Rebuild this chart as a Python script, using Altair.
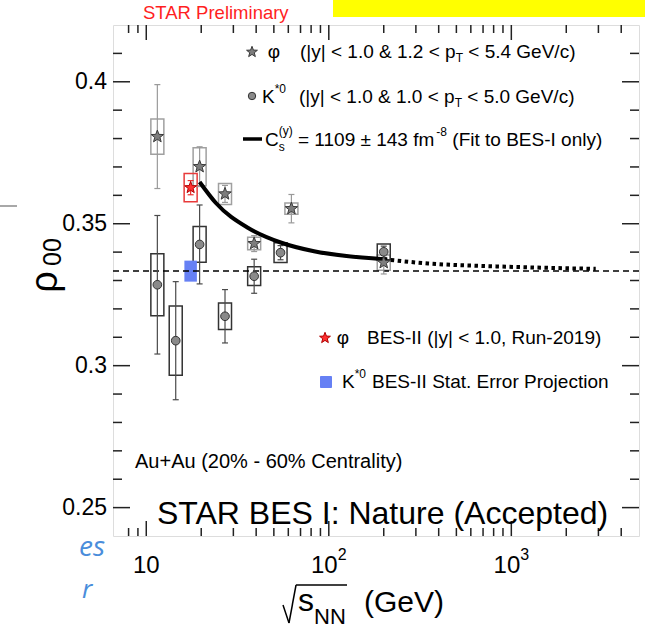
import altair as alt
import pandas as pd

# ------------------------------------------------------------------ data
phi_energy = [11.5, 19.6, 27.0, 39.0, 62.4, 200.0]
phi_rho = [0.3807, 0.3701, 0.3605, 0.3430, 0.3553, 0.3363]
phi_stat = [0.0183, 0.0070, 0.0030, 0.0028, 0.0050, 0.0040]
phi_sys = [0.0062, 0.0067, 0.0037, 0.0022, 0.0020, 0.0027]

kstar_energy = [11.5, 14.5, 19.6, 27.0, 39.0, 54.4, 200.0]
kstar_rho = [0.3285, 0.3088, 0.3427, 0.3174, 0.3315, 0.3398, 0.3401]
kstar_stat = [0.0244, 0.0208, 0.0139, 0.0094, 0.0060, 0.0025, 0.0020]
kstar_sys = [0.0109, 0.0122, 0.0063, 0.0047, 0.0033, 0.0035, 0.0028]

bes2_phi_energy = [17.5]
bes2_phi_rho = [0.3627]
bes2_phi_stat = [0.0025]
bes2_phi_sys = [0.0050]

bes2_k_energy = [17.5]
bes2_k_rho = [0.3333]
bes2_k_stat = [0.0037]

fit_energy = [19.6, 24.0, 36.0, 55.0, 83.0, 125.0, 200.0]
fit_rho = [0.3647, 0.3574, 0.3486, 0.3433, 0.3403, 0.3386, 0.3375]
fit_ext_energy = [200.0, 350.0, 800.0, 1500.0, 2900.0]
fit_ext_rho = [0.3375, 0.3360, 0.3350, 0.3345, 0.3341]

ref_line = [1.0 / 3.0]

x_major = [10, 100, 1000]
x_major_exp = ["", "2", "3"]
x_minor = [8, 9, 20, 30, 40, 50, 60, 70, 80, 90,
           200, 300, 400, 500, 600, 700, 800, 900, 2000, 3000, 4000]
y_major = [0.25, 0.30, 0.35, 0.40]
y_major_lab = ["0.25", "0.3", "0.35", "0.4"]
y_minor = [0.26, 0.27, 0.28, 0.29, 0.31, 0.32, 0.33, 0.34,
           0.36, 0.37, 0.38, 0.39, 0.41]

# ------------------------------------------------------------------ layout
W, H = 526, 511
OX, OY = 113, 25
FONT = "Liberation Sans"

xs = alt.Scale(type="log", domain=[7, 4700], nice=False)
ys = alt.Scale(domain=[0.24, 0.42], nice=False, zero=False)


def X(f="E"):
    return alt.X(f"{f}:Q", scale=xs, axis=None)


def Y(f):
    return alt.Y(f"{f}:Q", scale=ys, axis=None)


def frame(E, rho, stat=None, sys=None):
    d = pd.DataFrame({"E": E, "rho": rho})
    if stat is not None:
        d["lo"] = [r - s for r, s in zip(rho, stat)]
        d["hi"] = [r + s for r, s in zip(rho, stat)]
    if sys is not None:
        d["slo"] = [r - s for r, s in zip(rho, sys)]
        d["shi"] = [r + s for r, s in zip(rho, sys)]
    return d


phi_df = frame(phi_energy, phi_rho, phi_stat, phi_sys)
k_df = frame(kstar_energy, kstar_rho, kstar_stat, kstar_sys)
b2p_df = frame(bes2_phi_energy, bes2_phi_rho, bes2_phi_stat, bes2_phi_sys)
b2k_df = frame(bes2_k_energy, bes2_k_rho, bes2_k_stat)
fit_df = pd.DataFrame({"E": fit_energy, "rho": fit_rho})
ext_df = pd.DataFrame({"E": fit_ext_energy, "rho": fit_ext_rho})
ref_df = pd.DataFrame({"r": ref_line})

STAR = ("M0,-1 L0.247,-0.34 L0.951,-0.309 L0.399,0.13 L0.588,0.809 "
        "L0,0.42 L-0.588,0.809 L-0.399,0.13 L-0.951,-0.309 L-0.247,-0.34 Z")
BLUE = "#6680f4"

layers = []


def sysbox(df, color, w=13):
    return alt.Chart(df).mark_bar(size=w, fillOpacity=0, stroke=color, strokeWidth=1.5).encode(
        x=X(), y=Y("slo"), y2=alt.Y2("shi:Q"))


def errbar(df, color):
    bar = alt.Chart(df).mark_rule(color=color, strokeWidth=1.2).encode(
        x=X(), y=Y("lo"), y2=alt.Y2("hi:Q"))
    caps = alt.Chart(df).transform_fold(["lo", "hi"], as_=["k", "v"]).mark_tick(
        orient="horizontal", size=6, thickness=1.2, color=color, opacity=1).encode(
        x=X(), y=Y("v"))
    return [bar, caps]


layers.append(sysbox(phi_df, "#a0a0a0"))
layers.append(sysbox(k_df, "#333333"))
layers.append(sysbox(b2p_df, "#e83a3a"))
layers.append(alt.Chart(b2k_df).mark_bar(size=12.5, fill=BLUE, fillOpacity=1).encode(
    x=X(), y=Y("lo"), y2=alt.Y2("hi:Q")))
layers.append(alt.Chart(ref_df).mark_rule(color="black", strokeWidth=1.5, strokeDash=[6, 4]).encode(
    y=Y("r")))
layers += errbar(phi_df, "#9a9a9a")
layers += errbar(k_df, "#4a4a4a")
layers += errbar(b2p_df, "#e83030")
layers.append(alt.Chart(fit_df).mark_line(color="black", strokeWidth=4, interpolate="monotone").encode(
    x=X(), y=Y("rho")))
layers.append(alt.Chart(ext_df).mark_line(color="black", strokeWidth=4, strokeDash=[3.5, 3.5],
                                          interpolate="monotone").encode(x=X(), y=Y("rho")))
layers.append(alt.Chart(phi_df).mark_point(shape=STAR, size=170, filled=True, fill="#7d7d7d",
                                           stroke="#3a3a3a", strokeWidth=1, opacity=1).encode(
    x=X(), y=Y("rho")))
layers.append(alt.Chart(k_df).mark_point(shape="circle", size=75, filled=True, fill="#8a8a8a",
                                         stroke="#333333", strokeWidth=1, opacity=1).encode(
    x=X(), y=Y("rho")))
layers.append(alt.Chart(b2p_df).mark_point(shape=STAR, size=150, filled=True, fill="#ff3030",
                                           stroke="#b00000", strokeWidth=1, opacity=1).encode(
    x=X(), y=Y("rho")))

# ------------------------------------------------------------------ ticks (inside, mirrored)
xmaj_df = pd.DataFrame({"E": x_major, "e": x_major_exp})
xmin_df = pd.DataFrame({"E": x_minor})
ymaj_df = pd.DataFrame({"v": y_major, "t": y_major_lab})
ymin_df = pd.DataFrame({"v": y_minor})
TC, TW = "#222222", 1.5
for d, ln in ((xmaj_df, 15), (xmin_df, 8)):
    layers.append(alt.Chart(d).mark_rule(color=TC, strokeWidth=TW).encode(
        x=X(), y=alt.value(H), y2=alt.value(H - ln)))
    layers.append(alt.Chart(d).mark_rule(color=TC, strokeWidth=TW).encode(
        x=X(), y=alt.value(0), y2=alt.value(ln)))
for d, ln in ((ymaj_df, 17), (ymin_df, 9)):
    layers.append(alt.Chart(d).mark_rule(color=TC, strokeWidth=TW).encode(
        y=Y("v"), x=alt.value(0), x2=alt.value(ln)))
    layers.append(alt.Chart(d).mark_rule(color=TC, strokeWidth=TW).encode(
        y=Y("v"), x=alt.value(W), x2=alt.value(W - ln)))

# tick labels
LAB = 24
SUP = 16
layers.append(alt.Chart(ymaj_df).mark_text(align="right", baseline="middle", font=FONT,
                                           fontSize=23, dx=-6, color="black").encode(
    y=Y("v"), x=alt.value(0), text="t:N"))
xl10 = xmaj_df[xmaj_df["e"] == ""]
xlp = xmaj_df[xmaj_df["e"] != ""]
base_w = 1.112 * LAB
sup_w = 0.556 * SUP
layers.append(alt.Chart(xl10).mark_text(align="center", baseline="middle", font=FONT, fontSize=LAB,
                                        text="10", color="black").encode(
    x=X(), y=alt.value(566 - OY)))
layers.append(alt.Chart(xlp).mark_text(align="left", baseline="middle", font=FONT, fontSize=LAB,
                                       text="10", dx=-(base_w + sup_w) / 2, color="black").encode(
    x=X(), y=alt.value(566 - OY)))
layers.append(alt.Chart(xlp).mark_text(align="left", baseline="middle", font=FONT, fontSize=SUP,
                                       dx=(base_w - sup_w) / 2, color="black").encode(
    x=X(), y=alt.value(555 - OY), text="e:N"))

# ------------------------------------------------------------------ annotations
dummy = pd.DataFrame({"a": [0]})

AW = {" ": 278, "(": 333, ")": 333, "*": 389, "+": 584, ",": 278, "-": 333, ".": 278,
      "/": 278, ":": 278, "<": 584, "=": 584, "|": 260, "&": 667, "%": 889, "\u00b1": 584,
      "A": 667, "B": 667, "C": 722, "E": 667, "F": 611, "G": 778, "I": 278, "K": 667,
      "N": 722, "P": 667, "R": 722, "S": 667, "T": 611, "V": 667,
      "a": 556, "b": 556, "c": 500, "d": 556, "e": 556, "f": 278, "g": 556, "h": 556,
      "i": 222, "j": 222, "k": 500, "l": 222, "m": 833, "n": 556, "o": 556, "p": 556,
      "r": 333, "s": 500, "t": 278, "u": 556, "v": 500, "y": 500}


def tw(s, size):
    return sum(AW.get(ch, 556) for ch in s) / 1000.0 * size


def txt(s, x, y, size, color="black", align="left", baseline="middle", angle=0,
        font=FONT, style="normal"):
    return alt.Chart(dummy).mark_text(text=s, align=align, baseline=baseline,
                                      font=font, fontSize=size, color=color,
                                      fontStyle=style).encode(
        x=alt.value(x - OX), y=alt.value(y - OY), angle=alt.value(angle))


def seq(parts, x0, yc, color="black"):
    out, cur = [], x0
    for s, size, dy in parts:
        lead = len(s) - len(s.lstrip(" "))
        cur += tw(" " * lead, size)
        s2 = s.strip(" ")
        out.append(txt(s2, cur, yc + dy, size, color))
        cur += tw(s2, size)
    return out


def seg(x1, y1, x2, y2, color="black", w=1.5):
    return alt.Chart(dummy).mark_rule(color=color, strokeWidth=w).encode(
        x=alt.value(x1 - OX), y=alt.value(y1 - OY), x2=alt.value(x2 - OX), y2=alt.value(y2 - OY))


def sym(x, y, shape, size, fill, stroke):
    return alt.Chart(dummy).mark_point(shape=shape, size=size, filled=True, fill=fill,
                                       stroke=stroke, strokeWidth=1, opacity=1).encode(
        x=alt.value(x - OX), y=alt.value(y - OY))


LF = 19
SF = 12
ann = []
# slide remnants
ann.append(alt.Chart(dummy).mark_rect(color="#ffff00").encode(
    x=alt.value(333 - OX), x2=alt.value(650 - OX), y=alt.value(-5 - OY), y2=alt.value(17 - OY)))
ann.append(seg(0, 206, 17, 206, "#a8a8a8", 2))
ann.append(txt("es", 79, 548, 28, "#4a8ddb", style="italic", font="Open Sans"))
ann.append(txt("r", 82, 590, 26, "#4a8ddb", style="italic", font="Open Sans"))
ann.append(txt("STAR Preliminary", 143, 13, 18.5, "#ff1f1f"))

# legend row 1
ann.append(sym(252, 52, STAR, 130, "#7d7d7d", "#3a3a3a"))
ann.append(txt("\u03c6", 274, 52, LF, align="center"))
ann += seq([("(|y| < 1.0 & 1.2 < p", LF, 0), ("T", SF, 6), (" < 5.4 GeV/c)", LF, 0)], 300, 52)
# legend row 2
ann.append(sym(252, 96, "circle", 55, "#8a8a8a", "#333333"))
ann += seq([("K", LF, 0), ("*0", SF, -8)], 262, 97)
ann += seq([("(|y| < 1.0 & 1.0 < p", LF, 0), ("T", SF, 6), (" < 5.0 GeV/c)", LF, 0)], 299, 97)
# legend row 3
ann.append(seg(243, 139, 262, 139, "black", 3.5))
ann.append(txt("C", 265, 140, LF))
cx = 265 + tw("C", LF)
ann.append(txt("s", cx, 147, SF))
ann.append(txt("(y)", cx, 131, SF))
cx += tw("(y)", SF)
ann += seq([(" = 1109 \u00b1 143 fm", LF, 0), ("-8", SF, -8), (" (Fit to BES-I only)", LF, 0)], cx, 140)
# BES-II legend
ann.append(sym(325, 338, STAR, 130, "#ff3030", "#b00000"))
ann.append(txt("\u03c6", 343, 338, LF, align="center"))
ann.append(txt("BES-II (|y| < 1.0, Run-2019)", 367, 338, LF))
ann.append(sym(326, 382, "square", 121, BLUE, BLUE))
ann += seq([("K", LF, 0), ("*0", SF, -8)], 342, 382)
ann.append(txt("BES-II Stat. Error Projection", 372, 382, LF))

ann.append(txt("Au+Au (20% - 60% Centrality)", 135, 462, 20))
ann.append(txt("STAR BES I: Nature (Accepted)", 157, 514, 32))

# axis titles
ann.append(seg(283, 605, 289, 623))
ann.append(seg(289, 623, 296, 585))
ann.append(seg(296, 585, 347, 585))
ann.append(txt("s", 298, 601, 32))
ann.append(txt("NN", 314, 617, 22))
ann.append(txt("(GeV)", 364, 603, 30))
ann.append(txt("\u03c1", 46, 282, 38, align="center", angle=270))
ann.append(txt("00", 53, 252, 25, align="center", angle=270))

chart = alt.layer(*layers, *ann).properties(
    width=W, height=H,
    autosize=alt.AutoSizeParams(type="none"),
    padding={"left": OX, "top": OY, "right": 645 - OX - W, "bottom": 633 - OY - H},
).configure_view(stroke="black", strokeWidth=2).configure(background="white")

chart.save("out.html", embed_options={"renderer": "svg", "actions": False})
